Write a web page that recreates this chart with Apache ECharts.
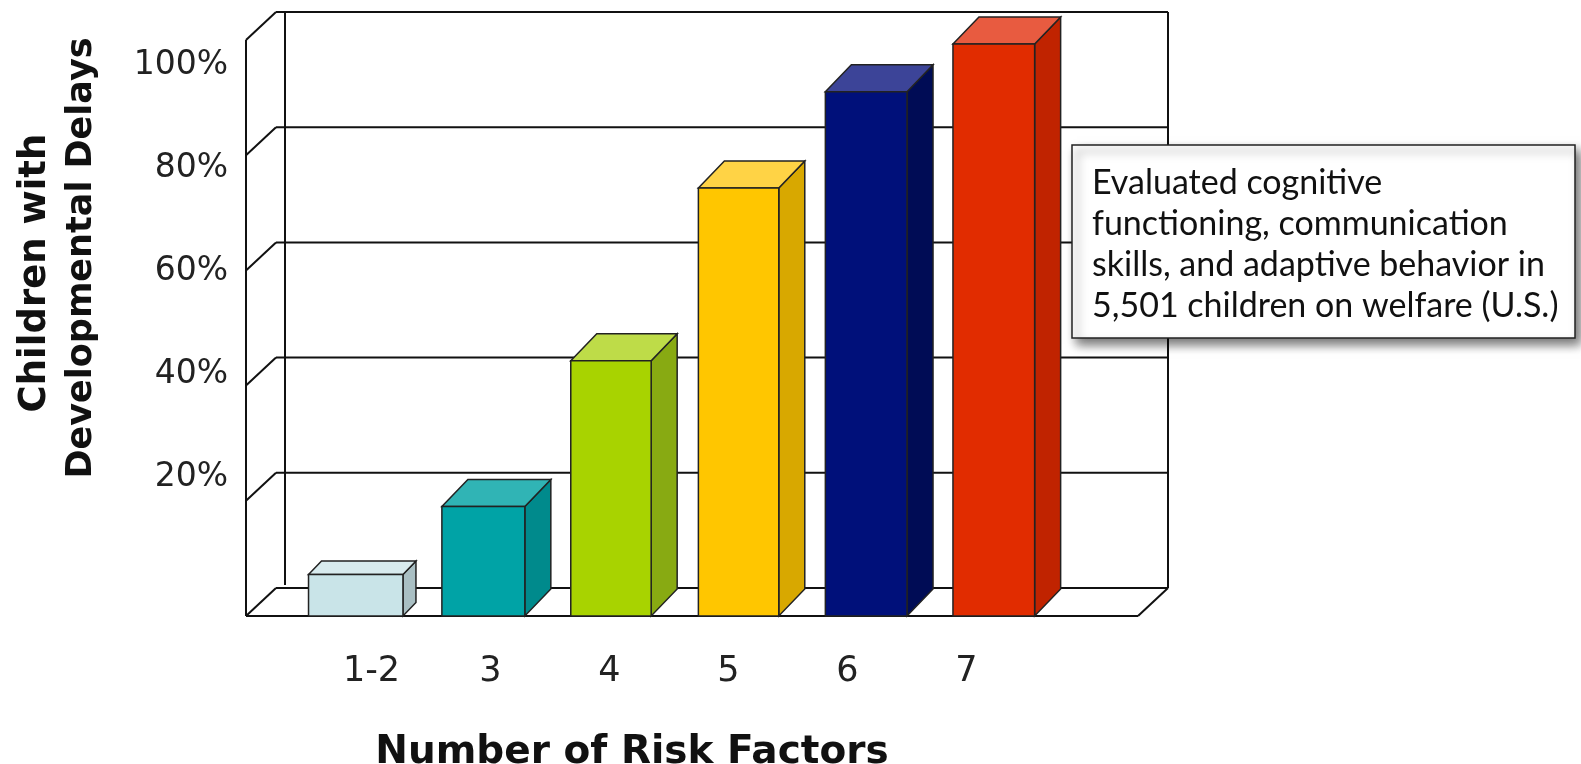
<!DOCTYPE html>
<html lang="en">
<head>
    <meta charset="UTF-8">
    <title>Children with Developmental Delays</title>
    <style>
        html, body { margin: 0; padding: 0; background: #fff; }
        #chart-wrap { width: 1581px; height: 764px; }
    </style>
</head>
<body>
<div id="chart-wrap"></div>
</body>
<script src="https://cdn.jsdelivr.net/npm/echarts@6/dist/echarts.min.js"></script>
<script>
    // data
    var categories = ['1-2', '3', '4', '5', '6', '7'];
    var delayPct = [7.2, 19, 44.3, 74.3, 91, 99.3];
    var yTicks = [0, 20, 40, 60, 80, 100];
    var noteLines = [
        'Evaluated cognitive',
        'functioning, communication',
        'skills, and adaptive behavior in',
        '5,501 children on welfare (U.S.)'
    ];

    // face colours: front, top, side
    var faceFront = ['#c9e4e8', '#00a3a6', '#a8d300', '#ffc600', '#00107a', '#e12c00'];
    var faceTop   = ['#d8ebee', '#30b4b5', '#bedc48', '#ffd345', '#3c4498', '#e85b40'];
    var faceSide  = ['#a9bfc3', '#008a8c', '#88aa12', '#d8a800', '#000c55', '#c02300'];
    var barShape = [{w: 0.74, d: 13}, {w: 0.65, d: 26}, {w: 0.63, d: 26},
                    {w: 0.63, d: 26}, {w: 0.64, d: 26}, {w: 0.64, d: 26}];

    var WX = 30, WY = 28;   // depth of the walls
    var lineCol = '#111';

    var chart = echarts.init(document.getElementById('chart-wrap'));

    function ln(x1, y1, x2, y2) {
        return {type: 'line', shape: {x1: x1, y1: y1, x2: x2, y2: y2},
                style: {stroke: lineCol, lineWidth: 2}};
    }

    function renderWall(params, api) {
        var cs = params.coordSys;
        var xl = cs.x, xr = cs.x + cs.width;
        var v = api.value(1);
        var y = api.coord([0, v])[1];
        var kids = [ln(xl, y, xl + WX, y - WY), ln(xl + WX, y - WY, xr + WX, y - WY)];
        if (v === 0) {
            var yTop = api.coord([0, 100])[1];
            kids.push(ln(xl, y, xr, y));                          // floor front edge
            kids.push(ln(xr, y, xr + WX, y - WY));                // floor right edge
            kids.push(ln(xl, y, xl, yTop));                       // front-left edge
            kids.push(ln(xl + 39, yTop - WY, xl + 39, y - WY - 3)); // back-left edge
            kids.push(ln(xr + WX, yTop - WY, xr + WX, y - WY));   // back-right edge
        }
        return {type: 'group', children: kids};
    }

    function renderBar(params, api) {
        var k = params.dataIndex;
        var i = api.value(0), v = api.value(1);
        var s = barShape[k];
        var tl = api.coord([i - s.w / 2, v]);
        var br = api.coord([i + s.w / 2, 0]);
        var x0 = tl[0], x1 = br[0], yt = tl[1], yb = br[1];
        var dx = s.d, dy = s.d * 1.04;
        var edge = {stroke: '#222', lineWidth: 1.5};
        return {
            type: 'group',
            children: [
                {type: 'polygon', shape: {points: [[x1, yb], [x1, yt], [x1 + dx, yt - dy], [x1 + dx, yb - dy]]},
                 style: Object.assign({fill: faceSide[k]}, edge)},
                {type: 'polygon', shape: {points: [[x0, yt], [x1, yt], [x1 + dx, yt - dy], [x0 + dx, yt - dy]]},
                 style: Object.assign({fill: faceTop[k]}, edge)},
                {type: 'rect', shape: {x: x0, y: yt, width: x1 - x0, height: yb - yt},
                 style: Object.assign({fill: faceFront[k]}, edge)}
            ]
        };
    }

    var option = {
        animation: false,
        grid: [
            {left: 246, right: 443, top: 40, bottom: 148},   // bars, front plane
            {left: 236, top: 65, height: 515, width: 10},    // y labels
            {left: 312, width: 714, top: 600, height: 50}    // x labels
        ],
        xAxis: [
            {gridIndex: 0, type: 'value', min: -0.86, max: 6.13, show: false},
            {gridIndex: 1, type: 'value', show: false},
            {
                gridIndex: 2, type: 'category', data: categories,
                axisLine: {show: false}, axisTick: {show: false},
                axisLabel: {margin: 4, fontSize: 35, fontFamily: 'DejaVu Sans', color: '#222'}
            }
        ],
        yAxis: [
            {gridIndex: 0, type: 'value', min: 0, max: 100, show: false},
            {
                gridIndex: 1, type: 'value', min: 0, max: 100, interval: 20,
                axisLine: {show: false}, axisTick: {show: false}, splitLine: {show: false},
                axisLabel: {
                    margin: 8, fontSize: 33, fontFamily: 'DejaVu Sans', color: '#222',
                    formatter: function (val) { return val === 0 ? '' : val + '%'; }
                }
            },
            {gridIndex: 2, type: 'value', show: false}
        ],
        series: [
            {
                type: 'custom', name: 'walls', xAxisIndex: 0, yAxisIndex: 0, z: 1, clip: false,
                encode: {x: 0, y: 1},
                data: yTicks.map(function (v) { return [0, v]; }),
                renderItem: renderWall
            },
            {
                type: 'custom', name: 'Children with Developmental Delays', xAxisIndex: 0, yAxisIndex: 0, z: 2, clip: false,
                encode: {x: 0, y: 1},
                data: delayPct.map(function (v, i) { return [i, v]; }),
                renderItem: renderBar
            }
        ],
        graphic: [
            {
                type: 'text', x: 35, y: 273, rotation: Math.PI / 2,
                style: {text: 'Children with', fontSize: 37, fontWeight: 'bold', fontFamily: 'DejaVu Sans',
                        fill: '#111', align: 'center', verticalAlign: 'middle',
                        textAlign: 'center', textVerticalAlign: 'middle'}
            },
            {
                type: 'text', x: 82, y: 258, rotation: Math.PI / 2,
                style: {text: 'Developmental Delays', fontSize: 35, fontWeight: 'bold', fontFamily: 'DejaVu Sans',
                        fill: '#111', align: 'center', verticalAlign: 'middle',
                        textAlign: 'center', textVerticalAlign: 'middle'}
            },
            {
                type: 'text', x: 632, y: 753,
                style: {text: 'Number of Risk Factors', fontSize: 39, fontWeight: 'bold', fontFamily: 'DejaVu Sans',
                        fill: '#111', align: 'center', verticalAlign: 'middle',
                        textAlign: 'center', textVerticalAlign: 'middle'}
            },
            {
                type: 'rect', z: 10,
                shape: {x: 1072, y: 145, width: 503, height: 193},
                style: {fill: '#fff', stroke: '#222', lineWidth: 1.5,
                        shadowBlur: 10, shadowOffsetX: 5, shadowOffsetY: 6, shadowColor: 'rgba(0,0,0,0.55)'}
            },
            {
                type: 'text', z: 11, x: 1092, y: 163,
                style: {text: noteLines.join('\n'), fontSize: 34, lineHeight: 41, fontFamily: 'Lato',
                        fill: '#111', align: 'left', verticalAlign: 'top',
                        textAlign: 'left', textVerticalAlign: 'top'}
            }
        ]
    };

    chart.setOption(option);
</script>
</html>
